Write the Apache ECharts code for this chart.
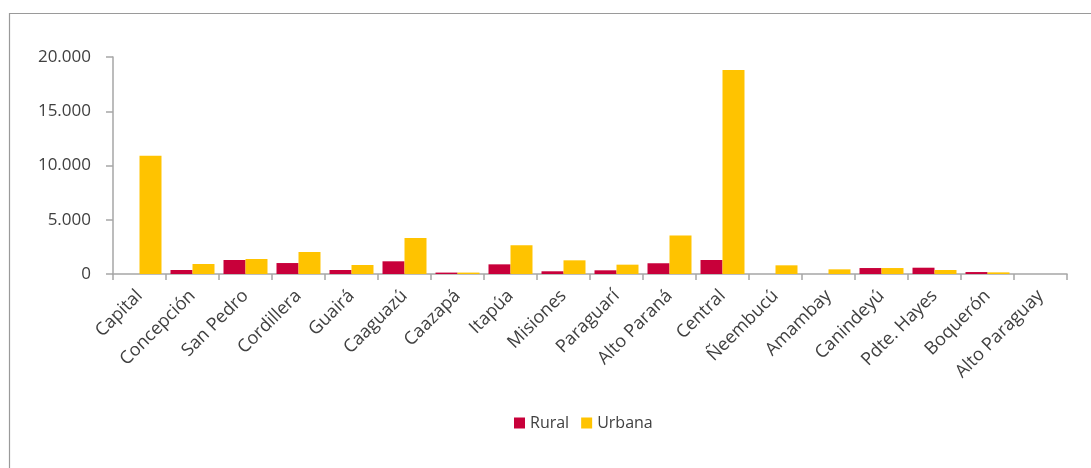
<!DOCTYPE html>
<html><head><meta charset="utf-8">
<script src="https://cdn.jsdelivr.net/npm/echarts@6/dist/echarts.min.js"></script>
<style>html,body{margin:0;padding:0;background:#fff}#c{width:1091px;height:468px}</style>
</head><body><div id="c"></div>
<script>
const categories = ["Capital","Concepción","San Pedro","Cordillera","Guairá","Caaguazú","Caazapá","Itapúa","Misiones","Paraguarí","Alto Paraná","Central","Ñeembucú","Amambay","Canindeyú","Pdte. Hayes","Boquerón","Alto Paraguay"];
const rural  = [0, 370, 1290, 1010, 370, 1170, 130, 890, 250, 340, 990, 1290, 0, 0, 550, 580, 180, 0];
const urbana = [10900, 920, 1380, 2030, 830, 3320, 130, 2650, 1260, 860, 3550, 18800, 800, 430, 550, 370, 150, 0];
const yTicks = [0, 5000, 10000, 15000, 20000];

const font = "'Open Sans', 'Noto Sans', sans-serif";
const fmt = v => String(v).replace(/\B(?=(\d{3})+(?!\d))/g, ".");
const chart = echarts.init(document.getElementById('c'), null, {renderer: 'canvas'});
chart.setOption({
  animation: false,
  textStyle: {fontFamily: font},
  graphic: [{type: 'rect', left: 7, top: 11, shape: {width: 1200, height: 600}, style: {fill: 'none', stroke: '#9a9a9a', lineWidth: 1.2}, silent: true}],
  legend: {
    data: ['Rural', 'Urbana'], top: 410, left: 509, itemWidth: 11, itemHeight: 11, itemGap: 12,
    icon: 'rect', textStyle: {fontSize: 16, color: '#404040', fontFamily: font}
  },
  grid: {left: 113, right: 24, top: 57, bottom: 194, containLabel: false},
  xAxis: {
    type: 'category', data: categories,
    axisLine: {lineStyle: {color: '#a6a6a6', width: 1.5}},
    axisTick: {show: true, length: 6, alignWithLabel: false, lineStyle: {color: '#a6a6a6', width: 1.5}},
    axisLabel: {rotate: 45, interval: 0, fontSize: 18, color: '#404040', margin: 19, fontFamily: font}
  },
  yAxis: {
    type: 'value', min: yTicks[0], max: yTicks[yTicks.length - 1], interval: 5000,
    axisLine: {show: true, lineStyle: {color: '#a6a6a6', width: 1.5}},
    axisTick: {show: true, length: 7, lineStyle: {color: '#a6a6a6', width: 1.5}},
    splitLine: {show: false},
    axisLabel: {fontSize: 17, color: '#404040', margin: 22, formatter: fmt, fontFamily: font}
  },
  series: [
    {name: 'Rural', type: 'bar', data: rural, itemStyle: {color: '#c8003a'}, barGap: '0%', barCategoryGap: '17%'},
    {name: 'Urbana', type: 'bar', data: urbana, itemStyle: {color: '#ffc300'}, barGap: '0%', barCategoryGap: '17%'}
  ]
});
</script></body></html>
